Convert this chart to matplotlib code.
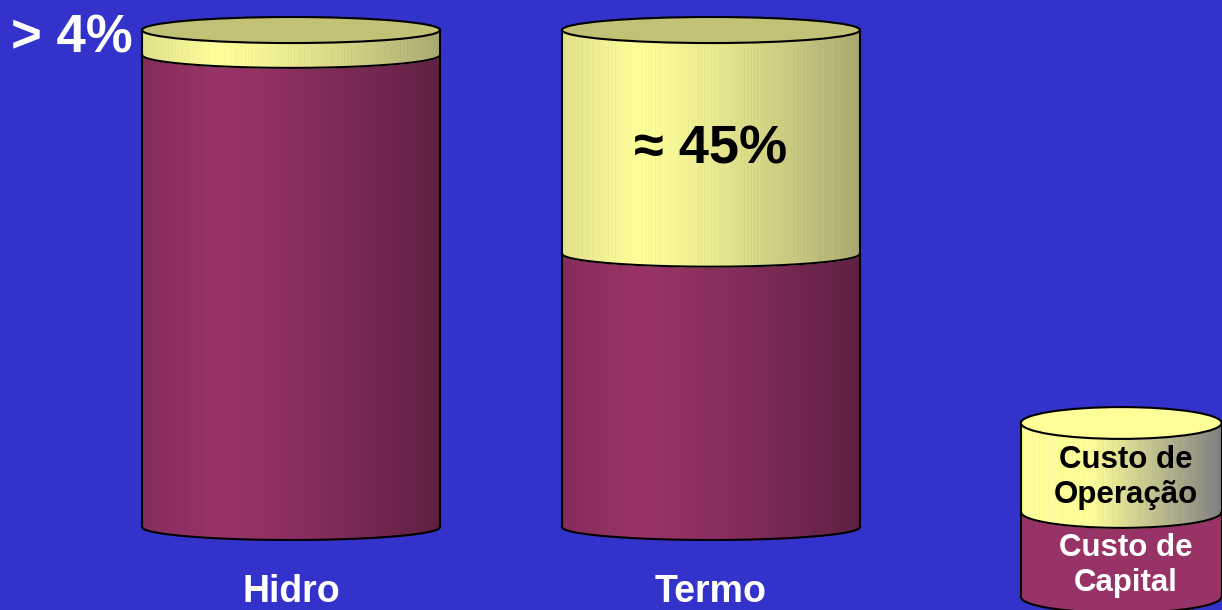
import matplotlib.pyplot as plt
import matplotlib.patches as mpatches
import numpy as np
from matplotlib.colors import to_rgb

plt.rcParams['font.family'] = ['Liberation Sans', 'DejaVu Sans']

categories = ['Hidro', 'Termo']
capital = [95, 55]      # Custo de Capital (%)
operacao = [5, 45]      # Custo de Operação (%)
value_labels = ['> 4%', '\u2248 45%']

bg = '#3333CC'
cap_light, cap_dark = '#993366', '#5E1F42'
op_light, op_dark = '#FFFF99', '#A9A970'
top_color = '#C2C277'

fig = plt.figure(figsize=(12.22, 6.10), dpi=100)
fig.patch.set_facecolor(bg)
ax = fig.add_axes([0, 0, 1, 1])
ax.set_facecolor(bg)
ax.set_xlim(-0.693, 2.217)
ax.set_ylim(-16.7, 106.04)
ax.axis('off')

width = 0.71   # cylinder width (x units)
ry = 2.62      # ellipse half height (y units)


def main_shade(t):
    if t < -0.5:
        return 0.35 * (-0.5 - t) / 0.5
    return ((t + 0.5) / 1.5) ** 1.3


def legend_shade(t):
    return float(np.clip((t + 0.3) / 1.3, 0, 1))


def flat(t):
    return 0.0


def arc(cx, a, y0, b, xs):
    return y0 - b * np.sqrt(np.clip(1 - ((xs - cx) / a) ** 2, 0, 1))


def segment(cx, a, b, y0, y1, c_light, c_dark, shading, n=90):
    edges = np.linspace(cx - a, cx + a, n + 1)
    l, d = np.array(to_rgb(c_light)), np.array(to_rgb(c_dark))
    for xa, xb in zip(edges[:-1], edges[1:]):
        xs = np.linspace(xa, xb, 4)
        w = shading(((xa + xb) / 2 - cx) / a)
        col = (1 - w) * l + w * d
        ax.fill_between(xs, arc(cx, a, y0, b, xs), arc(cx, a, y1, b, xs),
                        color=col, lw=0.5, edgecolor=col, zorder=2)


def cylinder(cx, a, b, y_bot, y_mid, y_top, cap_c, op_c, tcol, sh_cap, sh_op):
    segment(cx, a, b, y_bot, y_mid, cap_c[0], cap_c[1], sh_cap)
    segment(cx, a, b, y_mid, y_top, op_c[0], op_c[1], sh_op)
    xs = np.linspace(cx - a, cx + a, 200)
    ax.plot(xs, arc(cx, a, y_bot, b, xs), color='black', lw=1.5, zorder=3)
    ax.plot(xs, arc(cx, a, y_mid, b, xs), color='black', lw=1.5, zorder=3)
    ax.plot([cx - a, cx - a], [y_bot, y_top], color='black', lw=1.5, zorder=3)
    ax.plot([cx + a, cx + a], [y_bot, y_top], color='black', lw=1.5, zorder=3)
    ax.add_patch(mpatches.Ellipse((cx, y_top), 2 * a, 2 * b, facecolor=tcol,
                                  edgecolor='black', lw=1.5, zorder=4))


x = np.arange(len(categories))
for i in range(len(categories)):
    total = capital[i] + operacao[i]
    cylinder(x[i], width / 2, ry, 0, capital[i], total,
             (cap_light, cap_dark), (op_light, op_dark), top_color,
             main_shade, main_shade)
    ax.text(x[i], -13.0, categories[i], color='white', fontsize=27,
            fontweight='bold', ha='center', va='center')

# value labels
ax.text(x[0] - width / 2 - 0.021, 98.2, value_labels[0], color='white',
        fontsize=38, fontweight='bold', ha='right', va='center')
ax.text(x[1], capital[1] + operacao[1] / 2 - 1.6, value_labels[1], color='black',
        fontsize=39, fontweight='bold', ha='center', va='center')

# legend cylinder
lx, la, lb = 1.977, 0.239, 3.2
cylinder(lx, la, lb, -14.08, 3.02, 20.93, (cap_light, cap_light),
         (op_light, '#808080'), op_light, flat, legend_shade)
ax.text(lx + 0.01, 9.9, 'Custo de\nOperação', color='black', fontsize=22.5,
        fontweight='bold', ha='center', va='center', linespacing=1.22, zorder=5)
ax.text(lx + 0.01, -7.8, 'Custo de\nCapital', color='white', fontsize=22.5,
        fontweight='bold', ha='center', va='center', linespacing=1.22, zorder=5)

plt.savefig('out.png', dpi=100, facecolor=bg)
